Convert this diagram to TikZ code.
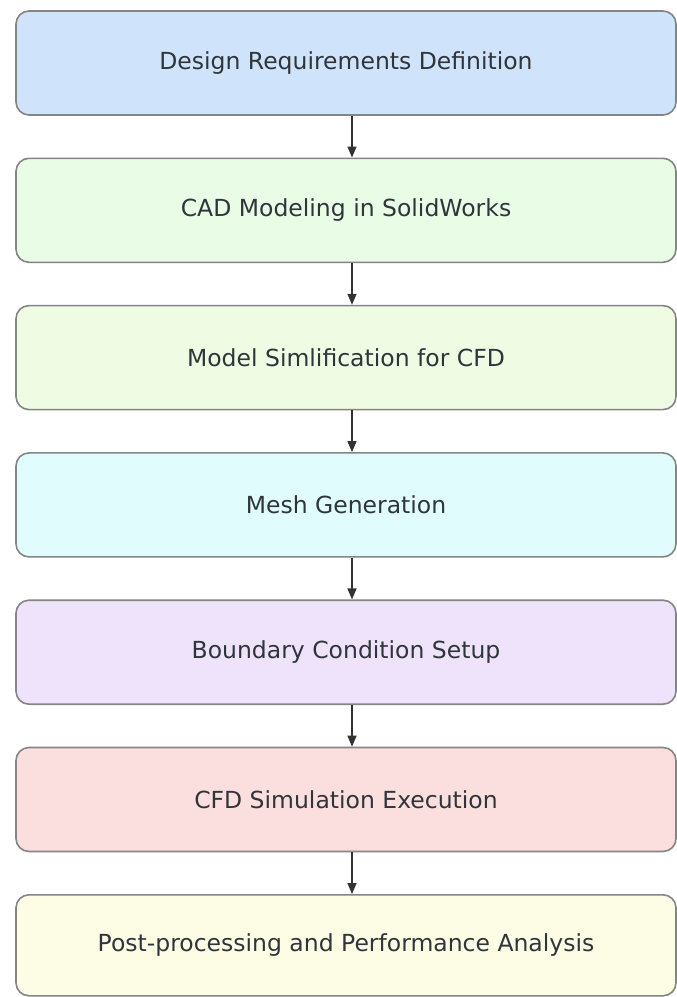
\documentclass[tikz,border=0pt]{standalone}
\usepackage{fontspec}
\setmainfont{DejaVu Sans}
\usetikzlibrary{arrows.meta}
\definecolor{c1}{HTML}{CFE3FB}
\definecolor{c2}{HTML}{E8FCE6}
\definecolor{c3}{HTML}{EFFBE3}
\definecolor{c4}{HTML}{E0FCFC}
\definecolor{c5}{HTML}{EFE3FB}
\definecolor{c6}{HTML}{FBDFDF}
\definecolor{c7}{HTML}{FDFDE6}
\definecolor{bord}{HTML}{858585}
\definecolor{txt}{HTML}{30353B}
\begin{document}
\begin{tikzpicture}[x=1pt,y=-1pt,
  stepbox/.style={draw=bord,line width=1.6pt,rounded corners=13pt,
    minimum width=660pt,minimum height=104pt,inner sep=0pt,
    font=\fontsize{23.5}{28}\selectfont,text=txt},
  flow/.style={draw=black!80,line width=1.4pt,-{Triangle[length=11pt,width=9pt]}}]
\useasboundingbox (0,0) rectangle (677,997);
\fill[white] (0,0) rectangle (677,997);
\node[stepbox,fill=c1] (b1) at (346,63) {Design Requirements Definition};
\node[stepbox,fill=c2] (b2) at (346,210.3) {CAD Modeling in SolidWorks};
\node[stepbox,fill=c3] (b3) at (346,357.6) {Model Simlification for CFD};
\node[stepbox,fill=c4] (b4) at (346,504.9) {Mesh Generation};
\node[stepbox,fill=c5] (b5) at (346,652.2) {Boundary Condition Setup};
\node[stepbox,fill=c6] (b6) at (346,799.5) {CFD Simulation Execution};
\node[stepbox,fill=c7,minimum height=101pt] (b7) at (346,945.3) {Post-processing and Performance Analysis};
\foreach \a/\b in {b1/b2,b2/b3,b3/b4,b4/b5,b5/b6,b6/b7}
  \draw[flow] ([xshift=6pt]\a.south) -- ([xshift=6pt]\b.north);
\end{tikzpicture}
\end{document}
